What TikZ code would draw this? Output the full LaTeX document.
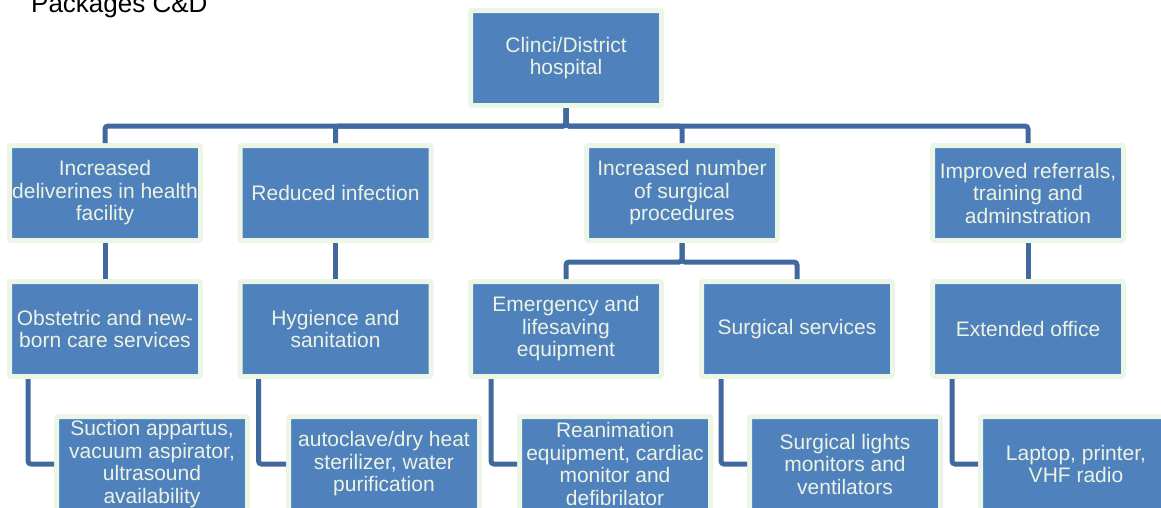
\documentclass[tikz,border=0pt]{standalone}
\usepackage{fontspec}
\setmainfont{Liberation Sans}
\definecolor{BoxBlue}{RGB}{79,129,189}
\definecolor{BoxRim}{RGB}{235,246,230}
\definecolor{BoxText}{RGB}{236,243,226}
\definecolor{LinkBlue}{RGB}{66,105,158}
\tikzset{
  box/.style={rectangle, draw=BoxRim, fill=BoxBlue, line width=5pt, rounded corners=2pt,
    minimum width=191pt, minimum height=95pt, inner sep=0pt, align=center,
    text=BoxText, font={\fontsize{21}{22.5}\selectfont}},
  link/.style={draw=LinkBlue, line width=5pt, rounded corners=3pt},
}
\begin{document}
\begin{tikzpicture}[x=1pt, y=-1pt]
    \useasboundingbox (0,0) rectangle (1161,507);
    \clip (0,0) rectangle (1161,507);

    % Title
    \node[anchor=base west, inner sep=0pt, font={\fontsize{26}{30}\selectfont}] (title) at (31,12) {Packages C\&D};

    % Top
    \node[box] (hosp) at (566,58) {Clinci/District\\hospital};

    % Outcomes
    \node[box] (deliv) at (105,193) {Increased\\deliverines in health\\facility};
    \node[box] (infect) at (335.5,193) {Reduced infection};
    \node[box] (surg) at (682,193) {Increased number\\of surgical\\procedures};
    \node[box] (refer) at (1028,193) {Improved referrals,\\training and\\adminstration};

    % Services
    \node[box] (obst) at (105,329) {Obstetric and new-\\born care services};
    \node[box] (hyg) at (335.5,329) {Hygience and\\sanitation};
    \node[box] (emerg) at (566,329) {Emergency and\\lifesaving\\equipment};
    \node[box] (surgserv) at (797,329) {Surgical services};
    \node[box] (office) at (1028,329) {Extended office};

    % Equipment
    \node[box] (suction) at (152,464) {Suction appartus,\\vacuum aspirator,\\ultrasound\\availability};
    \node[box] (auto) at (384,464) {autoclave/dry heat\\sterilizer, water\\purification};
    \node[box] (reanim) at (615,464) {Reanimation\\equipment, cardiac\\monitor and\\defibrilator};
    \node[box] (lights) at (845,464) {Surgical lights\\monitors and\\ventilators};
    \node[box] (laptop) at (1076,464) {Laptop, printer,\\VHF radio};

    % Links
    \draw[link] (hosp.south) -- ++(0,18) -| (deliv.north);
    \draw[link] (hosp.south) -- ++(0,18) -| (infect.north);
    \draw[link] (hosp.south) -- ++(0,18) -| (surg.north);
    \draw[link] (hosp.south) -- ++(0,18) -| (refer.north);
    \draw[link] (deliv.south) -- (obst.north);
    \draw[link] (infect.south) -- (hyg.north);
    \draw[link] (surg.south) -- ++(0,19) -| (emerg.north);
    \draw[link] (surg.south) -- ++(0,19) -| (surgserv.north);
    \draw[link] (refer.south) -- (office.north);
    \draw[link] ([xshift=21pt]obst.south west) |- (suction.west);
    \draw[link] ([xshift=21pt]hyg.south west) |- (auto.west);
    \draw[link] ([xshift=23pt]emerg.south west) |- (reanim.west);
    \draw[link] ([xshift=22pt]surgserv.south west) |- (lights.west);
    \draw[link] ([xshift=22pt]office.south west) |- (laptop.west);
\end{tikzpicture}
\end{document}
